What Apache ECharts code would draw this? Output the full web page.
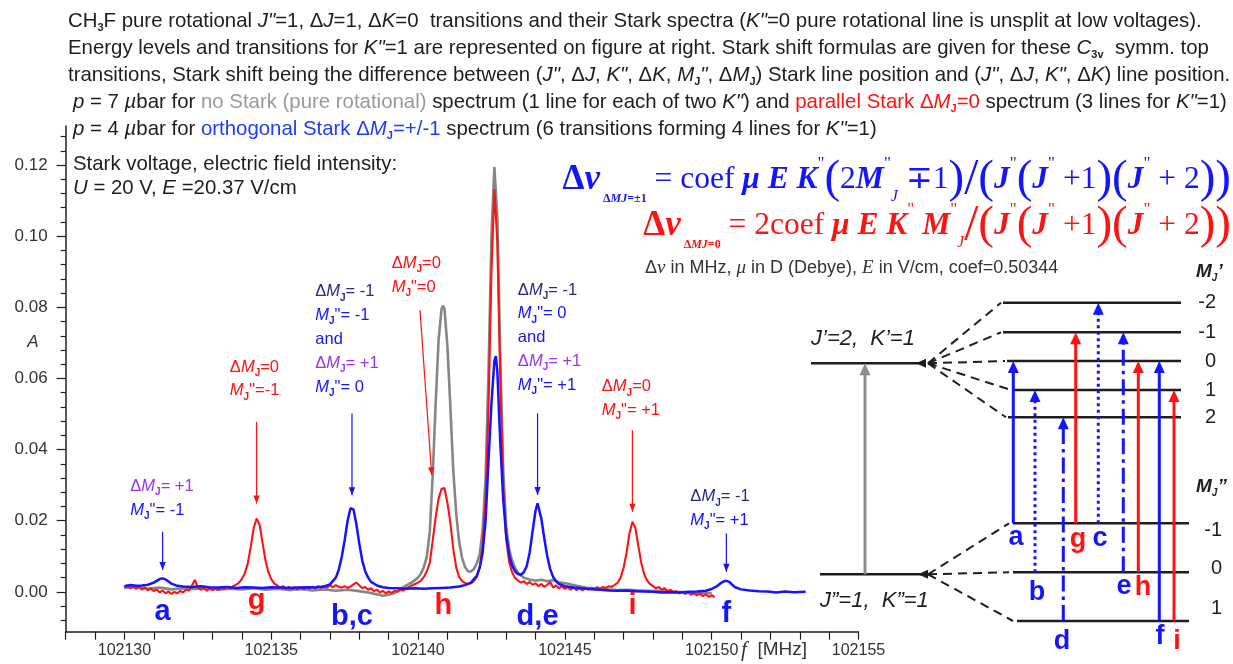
<!DOCTYPE html>
<html>
<head>
<meta charset="utf-8">
<script src="https://cdn.jsdelivr.net/npm/echarts@6/dist/echarts.min.js"></script>
<style>
html, body { margin: 0; padding: 0; background: #fff; }
#chart { width: 1233px; height: 664px; }
</style>
</head>
<body>
<div id="chart"></div>
<script>
// ---------- spectra: [frequency MHz, absorbance A] ----------
// no Stark field, p = 7 µbar
const graySpectrum = [
  [102130.0,0.0011],[102130.4,0.0014],[102130.8,0.0009],[102131.2,0.0012],[102131.6,0.0007],
  [102132.0,0.0010],[102132.4,0.0008],[102132.8,0.0011],[102133.2,0.0006],[102133.6,0.0009],
  [102134.0,0.0007],[102134.4,0.0010],[102134.8,0.0006],[102135.2,0.0009],[102135.6,0.0005],
  [102136.0,0.0008],[102136.4,0.0004],[102136.8,0.0007],[102137.2,0.0003],[102137.6,0.0006],
  [102138.0,0.0002],[102138.3,-0.0002],[102138.6,-0.0007],[102138.8,-0.0011],[102139.0,-0.0008],
  [102139.2,-0.0003],[102139.4,0.0008],[102139.6,0.0018],[102139.8,0.0027],[102140.0,0.0040],
  [102140.1,0.0052],[102140.2,0.0070],[102140.3,0.0100],[102140.4,0.0170],[102140.5,0.0330],
  [102140.6,0.0530],[102140.7,0.0710],[102140.8,0.0795],[102140.85,0.0804],[102140.9,0.0796],
  [102141.0,0.0690],[102141.1,0.0520],[102141.2,0.0340],[102141.3,0.0220],[102141.4,0.0140],
  [102141.5,0.0095],[102141.6,0.0070],[102141.7,0.0058],[102141.8,0.0057],[102141.9,0.0064],
  [102142.0,0.0080],[102142.1,0.0105],[102142.2,0.0175],[102142.3,0.0320],[102142.4,0.0620],
  [102142.5,0.1000],[102142.6,0.1194],[102142.7,0.1050],[102142.8,0.0660],[102142.9,0.0345],
  [102143.0,0.0185],[102143.1,0.0122],[102143.2,0.0088],[102143.3,0.0068],[102143.4,0.0054],
  [102143.5,0.0046],[102143.6,0.0040],[102143.8,0.0035],[102144.0,0.0031],[102144.2,0.0034],
  [102144.4,0.0030],[102144.6,0.0033],[102144.8,0.0027],[102145.0,0.0024],[102145.2,0.0021],
  [102145.4,0.0017],[102145.7,0.0012],[102146.0,0.0009],[102146.4,0.0007],[102146.8,0.0005],
  [102147.2,0.0006],[102147.6,0.0004],[102148.0,0.0002],[102148.4,0.0003],[102148.8,0.0000],
  [102149.2,-0.0002],[102149.6,-0.0003],[102150.0,-0.0004]
];

// parallel Stark, ΔMJ = 0, p = 7 µbar
const redSpectrum = [
  [102130.0,0.0012],[102130.1,0.0018],[102130.2,0.0010],[102130.3,0.0016],[102130.4,0.0008],
  [102130.5,0.0014],[102130.6,0.0006],[102130.7,0.0012],[102130.8,0.0004],[102130.9,0.0009],
  [102131.0,0.0002],[102131.1,0.0007],[102131.2,-0.0002],[102131.3,0.0004],[102131.4,-0.0004],
  [102131.5,0.0001],[102131.6,-0.0006],[102131.7,0.0000],[102131.8,-0.0004],[102131.9,0.0003],
  [102132.0,-0.0002],[102132.1,0.0006],[102132.2,0.0004],[102132.3,0.0018],[102132.4,0.0034],
  [102132.5,0.0012],[102132.6,0.0006],[102132.7,0.0010],[102132.8,0.0003],[102132.9,0.0009],
  [102133.0,0.0004],[102133.1,0.0011],[102133.2,0.0005],[102133.3,0.0012],[102133.4,0.0008],
  [102133.5,0.0014],[102133.6,0.0010],[102133.7,0.0016],[102133.8,0.0020],[102133.9,0.0026],
  [102134.0,0.0036],[102134.1,0.0052],[102134.2,0.0080],[102134.3,0.0125],[102134.4,0.0178],
  [102134.5,0.0206],[102134.6,0.0190],[102134.7,0.0140],[102134.8,0.0090],[102134.9,0.0056],
  [102135.0,0.0036],[102135.1,0.0024],[102135.2,0.0018],[102135.3,0.0012],[102135.4,0.0016],
  [102135.5,0.0009],[102135.6,0.0014],[102135.7,0.0008],[102135.8,0.0013],[102135.9,0.0006],
  [102136.0,0.0012],[102136.1,0.0007],[102136.2,0.0013],[102136.3,0.0009],[102136.4,0.0015],
  [102136.5,0.0010],[102136.6,0.0016],[102136.7,0.0011],[102136.8,0.0017],[102136.9,0.0012],
  [102137.0,0.0018],[102137.1,0.0013],[102137.2,0.0019],[102137.3,0.0014],[102137.4,0.0012],
  [102137.5,0.0016],[102137.6,0.0011],[102137.7,0.0015],[102137.8,0.0021],[102137.9,0.0026],
  [102138.0,0.0018],[102138.1,0.0010],[102138.2,0.0014],[102138.3,0.0006],[102138.4,0.0010],
  [102138.5,0.0002],[102138.6,0.0006],[102138.7,-0.0002],[102138.8,0.0003],[102138.9,-0.0004],
  [102139.0,0.0001],[102139.1,-0.0003],[102139.2,0.0003],[102139.3,0.0000],[102139.4,0.0006],
  [102139.5,0.0004],[102139.6,0.0010],[102139.7,0.0014],[102139.8,0.0018],[102139.9,0.0022],
  [102140.0,0.0026],[102140.1,0.0032],[102140.2,0.0042],[102140.3,0.0058],[102140.4,0.0082],
  [102140.5,0.0145],[102140.6,0.0210],[102140.7,0.0262],[102140.8,0.0290],[102140.86,0.0295],
  [102140.9,0.0292],[102141.0,0.0250],[102141.1,0.0195],[102141.2,0.0120],[102141.3,0.0068],
  [102141.4,0.0042],[102141.5,0.0030],[102141.6,0.0025],[102141.7,0.0022],[102141.8,0.0024],
  [102141.9,0.0030],[102142.0,0.0042],[102142.1,0.0070],[102142.2,0.0130],[102142.3,0.0260],
  [102142.4,0.0520],[102142.5,0.0900],[102142.6,0.1132],[102142.7,0.0980],[102142.8,0.0600],
  [102142.9,0.0300],[102143.0,0.0150],[102143.1,0.0085],[102143.2,0.0055],[102143.3,0.0040],
  [102143.4,0.0032],[102143.5,0.0026],[102143.6,0.0030],[102143.7,0.0022],[102143.8,0.0028],
  [102143.9,0.0020],[102144.0,0.0024],[102144.1,0.0016],[102144.2,0.0022],[102144.3,0.0014],
  [102144.4,0.0020],[102144.5,0.0028],[102144.6,0.0012],[102144.7,0.0018],[102144.8,0.0010],
  [102144.9,0.0016],[102145.0,0.0008],[102145.1,0.0014],[102145.2,0.0006],[102145.3,0.0012],
  [102145.4,0.0005],[102145.5,0.0011],[102145.6,0.0004],[102145.7,0.0010],[102145.8,0.0006],
  [102145.9,0.0012],[102146.0,0.0008],[102146.1,0.0013],[102146.2,0.0009],[102146.3,0.0014],
  [102146.4,0.0011],[102146.5,0.0016],[102146.6,0.0014],[102146.7,0.0020],[102146.8,0.0026],
  [102146.9,0.0040],[102147.0,0.0068],[102147.1,0.0110],[102147.2,0.0165],[102147.3,0.0197],
  [102147.4,0.0180],[102147.5,0.0130],[102147.6,0.0082],[102147.7,0.0050],[102147.8,0.0032],
  [102147.9,0.0022],[102148.0,0.0016],[102148.1,0.0010],[102148.2,0.0014],[102148.3,0.0006],
  [102148.4,0.0010],[102148.5,0.0002],[102148.6,0.0006],[102148.7,-0.0002],[102148.8,0.0002],
  [102148.9,-0.0004],[102149.0,0.0000],[102149.1,-0.0006],[102149.2,-0.0002],[102149.3,-0.0008],
  [102149.4,-0.0004],[102149.5,-0.0010],[102149.6,-0.0005],[102149.7,-0.0012],[102149.8,-0.0007],
  [102149.9,-0.0014],[102150.0,-0.0009],[102150.1,-0.0015]
];

// orthogonal Stark, ΔMJ = ±1, p = 4 µbar
const blueSpectrum = [
  [102130.0,0.0016],[102130.2,0.0019],[102130.4,0.0017],[102130.6,0.0018],[102130.8,0.0020],
  [102131.0,0.0026],[102131.1,0.0031],[102131.2,0.0036],[102131.3,0.0038],[102131.4,0.0035],
  [102131.5,0.0029],[102131.6,0.0023],[102131.8,0.0017],[102132.0,0.0015],[102132.3,0.0014],
  [102132.6,0.0016],[102132.9,0.0013],[102133.2,0.0012],[102133.5,0.0014],[102133.8,0.0011],
  [102134.1,0.0013],[102134.4,0.0012],[102134.7,0.0011],[102135.0,0.0013],[102135.3,0.0012],
  [102135.6,0.0011],[102135.9,0.0012],[102136.2,0.0013],[102136.5,0.0012],[102136.8,0.0015],
  [102137.0,0.0021],[102137.2,0.0040],[102137.3,0.0062],[102137.4,0.0098],[102137.5,0.0145],
  [102137.6,0.0200],[102137.7,0.0235],[102137.75,0.0239],[102137.8,0.0232],[102137.9,0.0190],
  [102138.0,0.0135],[102138.1,0.0088],[102138.2,0.0058],[102138.3,0.0040],[102138.4,0.0028],
  [102138.6,0.0018],[102138.8,0.0013],[102139.0,0.0011],[102139.3,0.0010],[102139.6,0.0009],
  [102139.9,0.0010],[102140.2,0.0009],[102140.5,0.0010],[102140.8,0.0011],[102141.1,0.0012],
  [102141.4,0.0015],[102141.6,0.0019],[102141.8,0.0026],[102142.0,0.0045],[102142.1,0.0068],
  [102142.2,0.0110],[102142.3,0.0200],[102142.4,0.0370],[102142.5,0.0530],[102142.6,0.0650],
  [102142.65,0.0663],[102142.7,0.0620],[102142.8,0.0420],[102142.9,0.0260],[102143.0,0.0160],
  [102143.1,0.0105],[102143.2,0.0075],[102143.3,0.0058],[102143.4,0.0050],[102143.5,0.0048],
  [102143.6,0.0055],[102143.7,0.0072],[102143.8,0.0110],[102143.9,0.0170],[102144.0,0.0228],
  [102144.07,0.0249],[102144.1,0.0246],[102144.2,0.0205],[102144.3,0.0150],[102144.4,0.0100],
  [102144.5,0.0064],[102144.6,0.0042],[102144.7,0.0030],[102144.8,0.0022],[102145.0,0.0016],
  [102145.3,0.0012],[102145.6,0.0010],[102145.9,0.0007],[102146.2,0.0006],[102146.5,0.0004],
  [102146.8,0.0003],[102147.1,0.0004],[102147.4,0.0002],[102147.7,0.0001],[102148.0,0.0000],
  [102148.3,-0.0002],[102148.6,-0.0001],[102148.9,-0.0002],[102149.2,0.0000],[102149.5,0.0001],
  [102149.8,0.0003],[102150.0,0.0008],[102150.2,0.0017],[102150.3,0.0024],[102150.4,0.0029],
  [102150.5,0.0031],[102150.6,0.0028],[102150.7,0.0020],[102150.8,0.0013],[102151.0,0.0007],
  [102151.3,0.0004],[102151.6,0.0002],[102151.9,0.0001],[102152.2,-0.0002],[102152.5,0.0001],
  [102152.8,-0.0001],[102153.2,0.0000]
];

// ---------- labelled Stark lines ----------
const peakNames = ['a', 'g', 'b,c', 'h', 'd,e', 'i', 'f'];
const peakFreq  = [102131.3, 102134.5, 102137.75, 102140.86, 102144.07, 102147.3, 102150.5];
const peakAbs   = [0.0038, 0.0206, 0.0239, 0.0295, 0.0249, 0.0197, 0.0031];
const peakKind  = ['orth', 'par', 'orth', 'par', 'orth', 'par', 'orth'];
const peakNotes = [
  ['{pu|Δ}{puI|M}{puS|J}{pu|= +1}', '{blI|M}{blS|J}{bl|"= -1}'],
  ['{rd|Δ}{rdI|M}{rdS|J}{rd|=0}', '{rdI|M}{rdS|J}{rd|"=-1}'],
  ['{nv|Δ}{nvI|M}{nvS|J}{nv|= -1}', '{blI|M}{blS|J}{bl|"= -1}', '{bl|and}', '{pu|Δ}{puI|M}{puS|J}{pu|= +1}', '{blI|M}{blS|J}{bl|"= 0}'],
  ['{rd|Δ}{rdI|M}{rdS|J}{rd|=0}', '{rdI|M}{rdS|J}{rd|"=0}'],
  ['{nv|Δ}{nvI|M}{nvS|J}{nv|= -1}', '{blI|M}{blS|J}{bl|"= 0}', '{bl|and}', '{pu|Δ}{puI|M}{puS|J}{pu|= +1}', '{blI|M}{blS|J}{bl|"= +1}'],
  ['{rd|Δ}{rdI|M}{rdS|J}{rd|=0}', '{rdI|M}{rdS|J}{rd|"= +1}'],
  ['{nv|Δ}{nvI|M}{nvS|J}{nv|= -1}', '{blI|M}{blS|J}{bl|"= +1}']
];

// ---------- axis ticks ----------
const yMajorTicks = [0, 0.02, 0.04, 0.06, 0.08, 0.10, 0.12];
const yMinorTicks = [-0.008, -0.004, 0.004, 0.008, 0.012, 0.016, 0.024, 0.028, 0.032, 0.036,
  0.044, 0.048, 0.052, 0.056, 0.064, 0.068, 0.072, 0.076, 0.084, 0.088, 0.092, 0.096,
  0.104, 0.108, 0.112, 0.116, 0.124, 0.128];
const xMajorTicks = [102130, 102135, 102140, 102145, 102150, 102155];

// ---------- energy level diagram (J''=1 -> J'=2, K=1) ----------
const upperMJ = ['-2', '-1', '0', '1', '2'];
const lowerMJ = ['-1', '0', '1'];
const transName  = ['a', 'b', 'd', 'g', 'c', 'e', 'h', 'f', 'i'];
const transLower = ['-1', '0', '1', '-1', '-1', '0', '0', '1', '1'];
const transUpper = ['0', '1', '2', '-1', '-2', '-1', '0', '0', '1'];
const transStyle = ['solid', 'dot', 'dashdot', 'par', 'dot', 'dashdot', 'par', 'solid', 'par'];

// ---------- colours & fonts ----------
const C = {
  blue: '#1414ff', red: '#ff1212', gray: '#868686', ink: '#1e1e1e',
  purple: '#9a35ee', navy: '#2a2a86', textBlue: '#1c3cff', textGray: '#9a9a9a'
};
const SANS = '"Liberation Sans", Arial, Helvetica, sans-serif';
const SERIF = '"Liberation Serif", "Times New Roman", serif';

// ---------- plot geometry ----------
const PLOT = { left: 65.7, top: 125.9, right: 374.5, bottom: 32.3 };
const X_MIN = 102128, X_MAX = 102155, Y_MIN = -0.0112, Y_MAX = 0.131;

// annotation layout relative to each peak point (pixels): arrow tail, arrow tip, text block, letter
const noteLayout = [
  { tail: [0, -46.6], tip: [0, -8.3],  text: [-32.3, -91.6],  letter: 20.3 },
  { tail: [0, -96.6], tip: [0, -15],   text: [-26.7, -151.6], letter: 9.3 },
  { tail: [0, -93.4], tip: [0, -11.7], text: [-36.7, -215],   letter: 25.3 },
  { tail: [-23.3, -176.7], tip: [-11.6, -11.7], text: [-51.6, -223.4], letter: 13.8 },
  { tail: [0, -90],   tip: [0, -8.3],  text: [-19.7, -213.3], letter: 25.3 },
  { tail: [0, -91.7], tip: [0, -10],   text: [-30.6, -135],   letter: 13.8 },
  { tail: [0, -47.4], tip: [0, -9],    text: [-36, -84],      letter: 21.8 }
];
const NOTE_LINE_H = 23.8;

// rich-text token helpers: every token carries a full font so styles apply
function tk(family, size, fill, extra) {
  return Object.assign({ fontFamily: family, fontSize: size, fill: fill }, extra || {});
}

function noteRich() {
  const r = {};
  [['pu', C.purple], ['bl', C.blue], ['rd', C.red], ['nv', C.navy]].forEach(([k, c]) => {
    r[k] = tk(SANS, 16.5, c, { lineHeight: 22 });
    r[k + 'I'] = tk(SANS, 16.5, c, { fontStyle: 'italic', lineHeight: 22 });
    r[k + 'S'] = tk(SANS, 10, c, { fontWeight: 'bold', verticalAlign: 'bottom', lineHeight: 8 });
  });
  return r;
}
const NOTE_RICH = noteRich();

function headPoints(tip, from, len, half) {
  const dx = tip[0] - from[0], dy = tip[1] - from[1];
  const L = Math.hypot(dx, dy) || 1;
  const ux = dx / L, uy = dy / L;
  const bx = tip[0] - ux * len, by = tip[1] - uy * len;
  return [[tip[0], tip[1]], [bx - uy * half, by + ux * half], [bx + uy * half, by - ux * half]];
}

function renderNote(params, api) {
  const i = api.value(2);
  const p = api.coord([api.value(0), api.value(1)]);
  const base = api.coord([api.value(0), 0]);
  const lay = noteLayout[i];
  const col = peakKind[i] === 'par' ? C.red : C.blue;
  const tail = [p[0] + lay.tail[0], p[1] + lay.tail[1]];
  const tip = [p[0] + lay.tip[0], p[1] + lay.tip[1]];
  const children = [
    { type: 'line', shape: { x1: tail[0], y1: tail[1], x2: tip[0], y2: tip[1] },
      style: { stroke: col, lineWidth: 1.2 } },
    { type: 'polygon', shape: { points: headPoints(tip, tail, 8, 3.2) }, style: { fill: col } }
  ];
  peakNotes[i].forEach((line, k) => {
    children.push({
      type: 'text', x: p[0] + lay.text[0], y: p[1] + lay.text[1] + k * NOTE_LINE_H,
      style: { text: line, rich: NOTE_RICH, align: 'left', verticalAlign: 'middle',
        textAlign: 'left', textVerticalAlign: 'middle', fontSize: 16.5, fontFamily: SANS, lineHeight: 22 }
    });
  });
  children.push({
    type: 'text', x: p[0], y: base[1] + lay.letter,
    style: { text: peakNames[i], fill: col, fontSize: 29, fontWeight: 'bold', fontFamily: SANS,
      align: 'center', verticalAlign: 'middle', textAlign: 'center', textVerticalAlign: 'middle' }
  });
  return { type: 'group', children: children };
}

// ---------- header text ----------
const HS = 20.4;
const headRich = {
  i: tk(SANS, HS, C.ink, { fontStyle: 'italic' }),
  sb: tk(SANS, 11, C.ink, { fontWeight: 'bold', verticalAlign: 'bottom', lineHeight: 10 }),
  g: tk(SANS, HS, C.textGray),
  r: tk(SANS, HS, C.red), ri: tk(SANS, HS, C.red, { fontStyle: 'italic' }),
  rs: tk(SANS, 11, C.red, { fontWeight: 'bold', verticalAlign: 'bottom', lineHeight: 10 }),
  b: tk(SANS, HS, C.textBlue), bi: tk(SANS, HS, C.textBlue, { fontStyle: 'italic' }),
  bs: tk(SANS, 11, C.textBlue, { fontWeight: 'bold', verticalAlign: 'bottom', lineHeight: 10 })
};
const headerLines = [
  'CH{sb|3}F pure rotational {i|J"}=1, Δ{i|J}=1, Δ{i|K}=0  transitions and their Stark spectra ({i|K"}=0 pure rotational line is unsplit at low voltages).',
  'Energy levels and transitions for {i|K"}=1 are represented on figure at right. Stark shift formulas are given for these {i|C}{sb|3v}  symm. top',
  'transitions, Stark shift being the difference between ({i|J"}, Δ{i|J}, {i|K"}, Δ{i|K}, {i|M}{sb|J}{i|"}, Δ{i|M}{sb|J}) Stark line position and ({i|J"}, Δ{i|J}, {i|K"}, Δ{i|K}) line position.',
  '{i|p} = 7 {i|µ}bar for {g|no Stark (pure rotational)} spectrum (1 line for each of two {i|K"}) and {r|parallel Stark Δ}{ri|M}{rs|J}{r|=0} spectrum (3 lines for {i|K"}=1)',
  '{i|p} = 4 {i|µ}bar for {b|orthogonal Stark Δ}{bi|M}{bs|J}{b|=+/-1} spectrum (6 transitions forming 4 lines for {i|K"}=1)'
];
const headerX = [68, 68, 68, 73, 73];
const fieldLines = [
  'Stark voltage, electric field intensity:',
  '{i|U} = 20 V, {i|E} =20.37 V/cm'
];

function txt(x, y, text, opts) {
  const o = opts || {};
  const align = o.align || 'left';
  return {
    type: 'text', x: x, y: y, silent: true, z: 10,
    style: Object.assign({
      text: text, fill: C.ink, fontFamily: SANS, fontSize: HS,
      align: align, verticalAlign: 'middle', textAlign: align, textVerticalAlign: 'middle'
    }, o.style || {})
  };
}

function formulaRich(color) {
  const LH = 50;
  return {
    D: tk(SERIF, 35, color, { fontWeight: 'bold', lineHeight: LH }),
    Di: tk(SERIF, 35, color, { fontWeight: 'bold', fontStyle: 'italic', lineHeight: LH }),
    ds: tk(SERIF, 12, color, { fontWeight: 'bold', verticalAlign: 'bottom', lineHeight: 20 }),
    dsi: tk(SERIF, 12, color, { fontWeight: 'bold', fontStyle: 'italic', verticalAlign: 'bottom', lineHeight: 20 }),
    t: tk(SERIF, 31.5, color, { lineHeight: LH }),
    ti: tk(SERIF, 31.5, color, { fontWeight: 'bold', fontStyle: 'italic', lineHeight: LH }),
    q: tk(SERIF, 17, color, { verticalAlign: 'top', lineHeight: 30 }),
    js: tk(SERIF, 16, color, { fontStyle: 'italic', verticalAlign: 'bottom', lineHeight: 28 }),
    P: tk(SERIF, 47, color, { lineHeight: LH }),
    S: tk(SERIF, 51, color, { lineHeight: LH })
  };
}
const formulaOrth = '{D|Δ}{Di|ν}{ds| Δ}{dsi|M}{dsi|J}{ds|=±1}{t| = coef }{ti|μ E K}{q|"}{P|(}{t|2}{ti|M}{q|"}{js|J}{t| ∓1}{P|)}{S|/}{P|(}{ti|J}{q|"}{P|(}{ti|J}{q|"}{t| +1}{P|)}{P|(}{ti|J}{q|"}{t| + 2}{P|)}{P|)}';
const formulaPar = '{D|Δ}{Di|ν}{ds| Δ}{dsi|M}{dsi|J}{ds|=0}{t| = 2coef }{ti|μ E K}{q|"}{t| }{ti|M}{q|"}{js|J}{S|/}{P|(}{ti|J}{q|"}{P|(}{ti|J}{q|"}{t| +1}{P|)}{P|(}{ti|J}{q|"}{t| + 2}{P|)}{P|)}';

// ---------- diagram drawing ----------
const DG = {
  upperMain: { x0: 811, x1: 920, y: 363.3 },
  lowerMain: { x0: 820, x1: 922, y: 574.3 },
  fanUpper: [928, 363.3], fanLower: [928, 574.3],
  upperY: { '-2': 302.7, '-1': 332.3, '0': 361, '1': 390, '2': 417.3 },
  upperX0: { '-2': 1003, '-1': 1003, '0': 1007, '1': 1013, '2': 1008 },
  upperX1: 1181,
  lowerY: { '-1': 523.3, '0': 572.3, '1': 621 },
  lowerX0: { '-1': 1013, '0': 1013, '1': 1017 },
  lowerX1: 1189,
  colX: [1013.3, 1035, 1063.3, 1075.7, 1098.3, 1123.3, 1138.3, 1159.3, 1174],
  labelPos: [[1016, 538], [1037, 593], [1062, 642], [1078, 540], [1100, 539], [1124, 587], [1143, 588], [1160, 637], [1177, 642]],
  upperLabelX: 1216, lowerLabelX: 1222,
  lowerLabelDy: { '-1': 7, '0': -4, '1': -13 },
  grayX: 865
};

function seg(x1, y1, x2, y2, stroke, w, dash) {
  return { type: 'line', silent: true, z: 5, shape: { x1: x1, y1: y1, x2: x2, y2: y2 },
    style: { stroke: stroke, lineWidth: w, lineDash: dash || null, lineCap: 'butt' } };
}
function head(tip, from, len, half, fill) {
  return { type: 'polygon', silent: true, z: 6, shape: { points: headPoints(tip, from, len, half) }, style: { fill: fill } };
}

function diagramElements() {
  const els = [];
  const k = C.ink;
  // main levels
  els.push(seg(DG.upperMain.x0, DG.upperMain.y, DG.upperMain.x1, DG.upperMain.y, k, 2.5));
  els.push(seg(DG.lowerMain.x0, DG.lowerMain.y, DG.lowerMain.x1, DG.lowerMain.y, k, 2.5));
  els.push(head([DG.upperMain.x1 - 4, DG.upperMain.y], [DG.fanUpper[0] + 4, DG.upperMain.y], 10, 4.5, k));
  els.push(head([DG.lowerMain.x1 - 4, DG.lowerMain.y], [DG.fanLower[0] + 4, DG.lowerMain.y], 10, 4.5, k));
  // unsplit rotational transition
  els.push(seg(DG.grayX, DG.lowerMain.y, DG.grayX, DG.upperMain.y + 10, '#8c8c8c', 3));
  els.push(head([DG.grayX, DG.upperMain.y], [DG.grayX, DG.lowerMain.y], 12, 5.5, '#8c8c8c'));
  // Stark sublevels and fan lines
  upperMJ.forEach(m => {
    const y = DG.upperY[m];
    els.push(seg(DG.upperX0[m], y, DG.upperX1, y, k, 2.5));
    els.push(seg(DG.fanUpper[0], DG.fanUpper[1], DG.upperX0[m] - 2, y, k, 2, [9, 6]));
    els.push(txt(DG.upperLabelX, y, m, { align: 'right', style: { fontSize: 20, fill: k } }));
  });
  lowerMJ.forEach(m => {
    const y = DG.lowerY[m];
    els.push(seg(DG.lowerX0[m], y, DG.lowerX1, y, k, 2.5));
    els.push(seg(DG.fanLower[0], DG.fanLower[1], DG.lowerX0[m] - 4, y, k, 2, [9, 6]));
    els.push(txt(DG.lowerLabelX, y + DG.lowerLabelDy[m], m, { align: 'right', style: { fontSize: 20, fill: k } }));
  });
  // Stark transitions
  transName.forEach((name, i) => {
    const x = DG.colX[i];
    const y0 = DG.lowerY[transLower[i]];
    const y1 = DG.upperY[transUpper[i]];
    const st = transStyle[i];
    const col = st === 'par' ? C.red : C.blue;
    const dash = st === 'dot' ? [3, 3.5] : st === 'dashdot' ? [16, 5, 3.5, 5] : null;
    els.push(seg(x, y0, x, y1 + 10, col, 3, dash));
    els.push(head([x, y1], [x, y0], 12, 5.5, col));
    els.push(txt(DG.labelPos[i][0], DG.labelPos[i][1], name,
      { align: 'center', style: { fontSize: 27, fontWeight: 'bold', fill: col } }));
  });
  // level labels
  const lvRich = {
    i: tk(SANS, 22, k, { fontStyle: 'italic' }),
    ib: tk(SANS, 19, k, { fontStyle: 'italic', fontWeight: 'bold' }),
    sb: tk(SANS, 10, k, { fontWeight: 'bold', fontStyle: 'italic', verticalAlign: 'bottom', lineHeight: 8 })
  };
  els.push(txt(811, 339, "{i|J’=2,  K’=1}", { style: { rich: lvRich, fontSize: 22, lineHeight: 24 } }));
  els.push(txt(820, 601, '{i|J”=1,  K”=1}', { style: { rich: lvRich, fontSize: 22, lineHeight: 24 } }));
  els.push(txt(1196, 272, "{ib|M}{sb|J}{ib|’}", { style: { rich: lvRich, fontSize: 19, lineHeight: 22 } }));
  els.push(txt(1196, 487, '{ib|M}{sb|J}{ib|”}', { style: { rich: lvRich, fontSize: 19, lineHeight: 22 } }));
  return els;
}

// ---------- assemble ----------
const graphics = [];
headerLines.forEach((line, k) => {
  graphics.push(txt(headerX[k], 21 + k * 27, line, { style: { rich: headRich, lineHeight: 24 } }));
});
fieldLines.forEach((line, k) => {
  graphics.push(txt(73, 164 + k * 24.5, line, { style: { rich: headRich, lineHeight: 24 } }));
});
graphics.push(txt(1231, 180, formulaOrth, { align: 'right', style: { rich: formulaRich(C.blue), lineHeight: 50 } }));
graphics.push(txt(1231, 226, formulaPar, { align: 'right', style: { rich: formulaRich(C.red), lineHeight: 50 } }));
graphics.push(txt(645, 268, '{d|Δ}{s|ν}{d| in MHz, }{s|μ}{d| in D (Debye), }{s|E}{d| in V/cm, coef=0.50344}', {
  style: { fill: '#333', fontSize: 18, lineHeight: 22, rich: {
    d: tk(SANS, 18, '#333'),
    s: tk(SERIF, 19, '#333', { fontStyle: 'italic' }) } }
}));
graphics.push(txt(33, 342, 'A', { align: 'center', style: { fontStyle: 'italic', fontSize: 17, fill: '#333' } }));
graphics.push(txt(741, 650, '{i|f}{n|  [MHz]}', { style: { fontSize: 19, fill: '#333', rich: {
  i: tk(SERIF, 21, '#333', { fontStyle: 'italic' }), n: tk(SANS, 19, '#333') } } }));
diagramElements().forEach(e => graphics.push(e));

const chart = echarts.init(document.getElementById('chart'), null, { renderer: 'canvas' });

const axisLineStyle = { color: '#1e1e1e', width: 1.5 };
const option = {
  animation: false,
  backgroundColor: '#fff',
  grid: [
    Object.assign({ outerBoundsMode: 'none', containLabel: false }, PLOT),
    Object.assign({ outerBoundsMode: 'none', containLabel: false }, PLOT)
  ],
  xAxis: [
    {
      type: 'value', gridIndex: 0, min: X_MIN, max: X_MAX, interval: 1,
      axisLine: { show: true, onZero: false, lineStyle: axisLineStyle },
      axisTick: { show: true, length: 8, lineStyle: { color: '#1e1e1e', width: 1.2 } },
      axisLabel: { show: true, customValues: xMajorTicks, margin: 11, color: '#333',
        fontFamily: SANS, fontSize: 16, formatter: v => String(Math.round(v)) },
      splitLine: { show: false }
    },
    { type: 'value', gridIndex: 1, min: X_MIN, max: X_MAX, show: false }
  ],
  yAxis: [
    {
      type: 'value', gridIndex: 0, min: Y_MIN, max: Y_MAX, position: 'left',
      axisLine: { show: true, onZero: false, lineStyle: axisLineStyle },
      axisTick: { show: true, customValues: yMajorTicks, length: 9, lineStyle: { color: '#1e1e1e', width: 1.2 } },
      axisLabel: { show: true, customValues: yMajorTicks, margin: 18, color: '#333',
        fontFamily: SANS, fontSize: 17, formatter: v => v.toFixed(2) },
      splitLine: { show: false }
    },
    {
      type: 'value', gridIndex: 1, min: Y_MIN, max: Y_MAX, position: 'left',
      axisLine: { show: false },
      axisTick: { show: true, customValues: yMinorTicks, length: 5, lineStyle: { color: '#1e1e1e', width: 1.2 } },
      axisLabel: { show: false },
      splitLine: { show: false }
    }
  ],
  graphic: { elements: graphics },
  series: [
    { name: 'no Stark', type: 'line', data: graySpectrum, symbol: 'none', z: 2,
      lineStyle: { color: C.gray, width: 2.6 }, silent: true },
    { name: 'parallel Stark', type: 'line', data: redSpectrum, symbol: 'none', z: 3,
      lineStyle: { color: C.red, width: 2.1 }, silent: true },
    { name: 'orthogonal Stark', type: 'line', data: blueSpectrum, symbol: 'none', z: 4,
      lineStyle: { color: C.blue, width: 2.5 }, silent: true },
    { name: 'labels', type: 'custom', clip: false, z: 6, silent: true,
      data: peakFreq.map((f, i) => [f, peakAbs[i], i]),
      renderItem: renderNote }
  ]
};
chart.setOption(option);
</script>
</body>
</html>
